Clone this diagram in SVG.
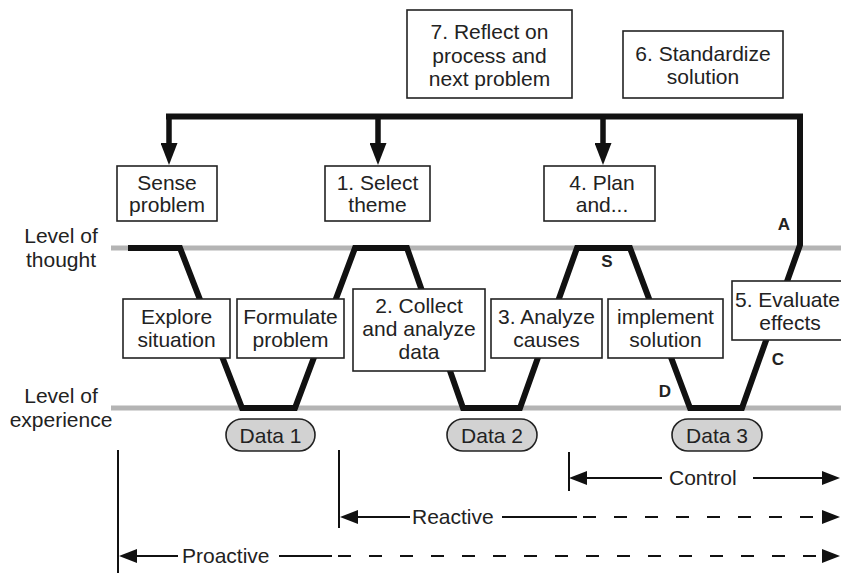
<svg xmlns="http://www.w3.org/2000/svg" width="841" height="575" viewBox="0 0 841 575">
<defs>
<style>
text{font-family:"Liberation Sans",Arial,Helvetica,sans-serif;font-size:21px;fill:#222;text-anchor:middle}
.lbl{font-weight:bold;font-size:17px}
.st{text-anchor:start}
.box{fill:#fff;stroke:#222;stroke-width:1.6}
.pill{fill:#d2d2d2;stroke:#222;stroke-width:1.6}
.lvl{stroke:#b4b4b4;stroke-width:5;fill:none}
.wave{stroke:#111;stroke-width:6;fill:none;stroke-linejoin:miter}
.drop{stroke:#111;stroke-width:5.5;fill:none}
.thin{stroke:#111;stroke-width:2;fill:none}
.dash{stroke:#111;stroke-width:2.2;fill:none;stroke-dasharray:13 18}
</style>
<marker id="big" markerUnits="userSpaceOnUse" viewBox="0 0 22 17" markerWidth="22" markerHeight="17" refX="7" refY="8.5" orient="auto"><path d="M0,0 L22,8.5 L0,17 z" fill="#111"/></marker>
<marker id="sm" markerUnits="userSpaceOnUse" viewBox="0 0 18 14" markerWidth="18" markerHeight="14" refX="10" refY="7" orient="auto"><path d="M0,0 L18,7 L0,14 z" fill="#111"/></marker>
</defs>
<rect width="841" height="575" fill="#fff"/>

<g id="levels">
<line class="lvl" x1="111" y1="248" x2="841" y2="248"/>
<line class="lvl" x1="111" y1="408" x2="841" y2="408"/>
<text x="61" y="243">Level of</text>
<text x="61" y="267">thought</text>
<text x="61" y="403">Level of</text>
<text x="61" y="427">experience</text>
</g>

<g id="connectors">
<path class="wave" d="M128,248 L180,248 L242,408 L295,408 L355,248 L407,248 L463,408 L520,408 L577,248 L630,248 L690,408 L742,408 L800,245 L800,116.5 L166,116.5"/>
<line class="drop" x1="169" y1="116.5" x2="169" y2="150" marker-end="url(#big)"/>
<line class="drop" x1="378" y1="116.5" x2="378" y2="150" marker-end="url(#big)"/>
<line class="drop" x1="603" y1="116.5" x2="603" y2="150" marker-end="url(#big)"/>
</g>

<g id="markers">
<text class="lbl" x="784" y="230">A</text>
<text class="lbl" x="607" y="267">S</text>
<text class="lbl" x="778" y="365">C</text>
<text class="lbl" x="665" y="397">D</text>
</g>

<g id="n-reflect"><rect class="box" x="407" y="10" width="165" height="88"/>
<text x="489.5" y="39">7. Reflect on</text><text x="489.5" y="62.5">process and</text><text x="489.5" y="86">next problem</text></g>
<g id="n-standardize"><rect class="box" x="623" y="31" width="160" height="67"/>
<text x="703" y="60.5">6. Standardize</text><text x="703" y="83.5">solution</text></g>
<g id="n-sense"><rect class="box" x="117" y="166" width="100" height="55"/>
<text x="167" y="190">Sense</text><text x="167" y="212">problem</text></g>
<g id="n-select"><rect class="box" x="325" y="166" width="105" height="55"/>
<text x="377.5" y="190">1. Select</text><text x="377.5" y="212">theme</text></g>
<g id="n-plan"><rect class="box" x="544" y="166" width="111" height="55"/>
<text x="602" y="190">4. Plan</text><text x="602" y="212">and...</text></g>
<g id="n-explore"><rect class="box" x="123" y="299" width="107" height="59"/>
<text x="176.5" y="324">Explore</text><text x="176.5" y="347">situation</text></g>
<g id="n-formulate"><rect class="box" x="237" y="299" width="107" height="59"/>
<text x="290.5" y="324">Formulate</text><text x="290.5" y="347">problem</text></g>
<g id="n-collect"><rect class="box" x="353" y="289" width="132" height="82"/>
<text x="419" y="313">2. Collect</text><text x="419" y="336">and analyze</text><text x="419" y="359">data</text></g>
<g id="n-analyze"><rect class="box" x="491" y="299" width="111" height="59"/>
<text x="546.5" y="324">3. Analyze</text><text x="546.5" y="347">causes</text></g>
<g id="n-implement"><rect class="box" x="608" y="299" width="115" height="59"/>
<text x="665.5" y="324">implement</text><text x="665.5" y="347">solution</text></g>
<g id="n-evaluate"><rect class="box" x="732" y="281" width="125" height="59"/>
<text x="787.5" y="307">5. Evaluate</text><text x="790" y="330">effects</text></g>

<g id="n-data1"><rect class="pill" x="226" y="419" width="89" height="32" rx="16"/><text x="270.5" y="442.5">Data 1</text></g>
<g id="n-data2"><rect class="pill" x="447" y="419" width="90" height="32" rx="16"/><text x="492" y="442.5">Data 2</text></g>
<g id="n-data3"><rect class="pill" x="672" y="419" width="90" height="32" rx="16"/><text x="717" y="442.5">Data 3</text></g>

<g id="spans">
<line class="thin" x1="569" y1="452" x2="569" y2="491"/>
<line class="thin" x1="662" y1="478" x2="577" y2="478" marker-end="url(#sm)"/>
<text class="st" x="669" y="485">Control</text>
<line class="thin" x1="753" y1="478" x2="832" y2="478" marker-end="url(#sm)"/>

<line class="thin" x1="339" y1="450" x2="339" y2="528"/>
<line class="thin" x1="410" y1="517" x2="348" y2="517" marker-end="url(#sm)"/>
<text class="st" x="412" y="524">Reactive</text>
<line class="thin" x1="502" y1="517" x2="577" y2="517"/>
<line class="dash" x1="583" y1="517" x2="832" y2="517" marker-end="url(#sm)"/>

<line class="thin" x1="118" y1="450" x2="118" y2="573"/>
<line class="thin" x1="178" y1="556" x2="127" y2="556" marker-end="url(#sm)"/>
<text class="st" x="182" y="563">Proactive</text>
<line class="thin" x1="279" y1="556" x2="332" y2="556"/>
<line class="dash" x1="338" y1="556" x2="832" y2="556" marker-end="url(#sm)"/>
</g>
</svg>
